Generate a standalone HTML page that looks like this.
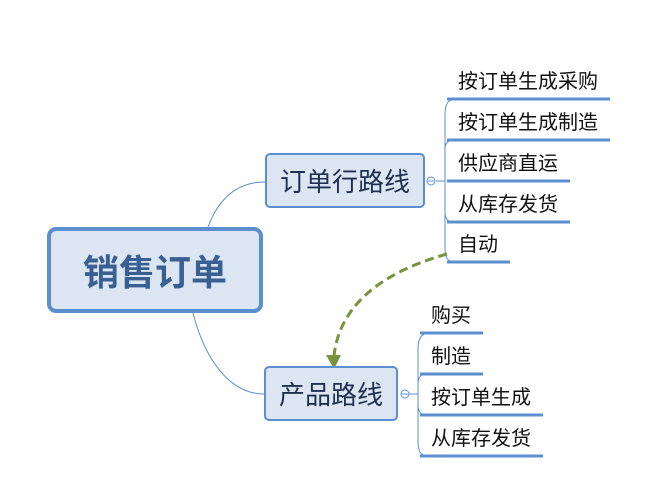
<!DOCTYPE html>
<html><head><meta charset="utf-8"><style>
body{margin:0;width:664px;height:486px;background:#fff;overflow:hidden;position:relative;font-family:"Liberation Sans","Noto Sans CJK SC",sans-serif}
.n{position:absolute;box-sizing:border-box;background:#dce6f2;border:2px solid #5b8fd0;border-radius:5px;display:flex;align-items:center;justify-content:center;color:#1f2f4f;font-size:26px}
.t{position:absolute;font-size:20px;color:#111;line-height:22px}
</style></head><body>
<svg width="664" height="486" style="position:absolute;left:0;top:0">
<g fill="none" stroke="#5b8fd0" stroke-width="1">
<path d="M208,227 C220,195 240,182 265,182"/>
<path d="M193,313 C205,360 230,394 264,394"/>
<path d="M436,181 L445,181"/>
<path d="M457,99 C447,99 445,105 445,115 L445,248 C445,258 447,262 457,262"/>
<path d="M445,150 C445,142 448,140 457,140"/>
<path d="M445,212 C445,220 448,222 457,222"/>
<path d="M409,394 L418,394"/>
<path d="M430,333 C420,333 418,340 418,350 L418,440 C418,452 420,456 430,456"/>
<path d="M418,384 C418,376 421,374 430,374"/>
<path d="M418,405 C418,413 421,415 430,415"/>
<circle cx="431" cy="181" r="4"/>
<circle cx="405" cy="394" r="4"/>
<path d="M428,181h6M402,394h6"/>
</g>
<g stroke="#5b8fd0" stroke-width="3">
<path d="M447,99H610M447,140H610M447,181H570M447,222H570M447,262H510"/>
<path d="M420,333H483M420,374H483M420,415H543M420,456H543"/>
</g>
<path d="M447,254 C390,270 340,300 334,356" fill="none" stroke="#77933c" stroke-width="3" stroke-dasharray="9,5"/>
<path d="M326,355 L341,355 L334,369 Z" fill="#77933c"/>
</svg>
<div class="n" style="left:47px;top:227px;width:216px;height:86px;border-width:4px;border-radius:9px;font-size:36px;font-weight:bold;color:#3a5f93">销售订单</div>
<div class="n" style="left:265px;top:153px;width:160px;height:55px">订单行路线</div>
<div class="n" style="left:264px;top:366px;width:134px;height:55px">产品路线</div>
<div class="t" style="left:458px;top:71px">按订单生成采购</div>
<div class="t" style="left:458px;top:112px">按订单生成制造</div>
<div class="t" style="left:458px;top:153px">供应商直运</div>
<div class="t" style="left:458px;top:194px">从库存发货</div>
<div class="t" style="left:458px;top:234px">自动</div>
<div class="t" style="left:431px;top:305px">购买</div>
<div class="t" style="left:431px;top:346px">制造</div>
<div class="t" style="left:431px;top:387px">按订单生成</div>
<div class="t" style="left:431px;top:428px">从库存发货</div>
</body></html>
